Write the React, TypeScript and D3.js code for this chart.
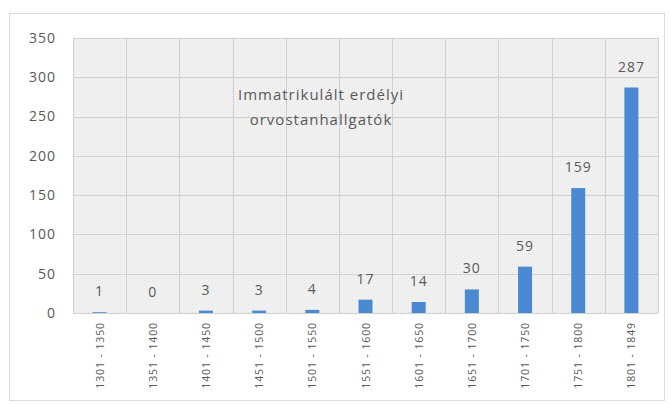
import * as d3 from 'd3';

const categories = [
  '1301 - 1350', '1351 - 1400', '1401 - 1450', '1451 - 1500', '1501 - 1550',
  '1551 - 1600', '1601 - 1650', '1651 - 1700', '1701 - 1750', '1751 - 1800', '1801 - 1849',
];
const values = [1, 0, 3, 3, 4, 17, 14, 30, 59, 159, 287];
const yTicks = [0, 50, 100, 150, 200, 250, 300, 350];
const titleLines = ['Immatrikulált erdélyi', 'orvostanhallgatók'];

const W = 671;
const H = 404;
const plot = { left: 73, top: 38, right: 658, bottom: 313 };
const font = '"Open Sans", "DejaVu Sans", sans-serif';
const textColor = '#595959';

const App = () => {
  const x = d3.scaleBand<string>()
    .domain(categories)
    .range([plot.left, plot.right])
    .paddingInner(0)
    .paddingOuter(0);

  const y = d3.scaleLinear()
    .domain([0, 350])
    .range([plot.bottom, plot.top]);

  const barW = 14;

  return (
    <svg width={W} height={H} style={{ position: 'absolute', left: 0, top: 0, background: '#fff' }}>
      <defs>
        <pattern id="dots" width={4} height={4} patternUnits="userSpaceOnUse">
          <rect width={4} height={4} fill="#f1f1f1" />
          <rect width={1} height={1} fill="#e2e2e2" />
          <rect x={2} y={2} width={1} height={1} fill="#e2e2e2" />
        </pattern>
      </defs>

      {/* chart frame */}
      <rect x={9.5} y={13.5} width={655} height={387} fill="#fff" stroke="#dcdcdc" />

      {/* plot background */}
      <rect
        x={plot.left}
        y={plot.top}
        width={plot.right - plot.left}
        height={plot.bottom - plot.top}
        fill="url(#dots)"
      />

      {/* horizontal grid */}
      {yTicks.map((t) => (
        <line
          key={'h' + t}
          x1={plot.left}
          x2={plot.right}
          y1={Math.round(y(t)) + 0.5}
          y2={Math.round(y(t)) + 0.5}
          stroke="#d0d0d0"
        />
      ))}

      {/* vertical grid at band edges */}
      {categories.map((c) => (
        <line
          key={'v' + c}
          x1={Math.round(x(c)!) + 0.5}
          x2={Math.round(x(c)!) + 0.5}
          y1={plot.top}
          y2={plot.bottom}
          stroke="#d0d0d0"
        />
      ))}
      <line x1={plot.right + 0.5} x2={plot.right + 0.5} y1={plot.top} y2={plot.bottom} stroke="#d0d0d0" />

      {/* y tick labels */}
      {yTicks.map((t) => (
        <text
          key={'yt' + t}
          x={56}
          y={y(t)}
          dy="0.35em"
          textAnchor="end"
          fontSize={14}
          letterSpacing={1}
          fontFamily={font}
          fill={textColor}
        >
          {t}
        </text>
      ))}

      {/* bars + value labels */}
      {categories.map((c, i) => {
        const cx = x(c)! + x.bandwidth() / 2;
        const top = y(values[i]);
        return (
          <g key={'b' + c}>
            <rect
              x={cx - barW / 2}
              y={top}
              width={barW}
              height={plot.bottom - top}
              fill="#4a8ad2"
            />
            <text
              x={cx}
              y={top - 16}
              textAnchor="middle"
              fontSize={14}
              letterSpacing={1}
              fontFamily={font}
              fill={textColor}
            >
              {values[i]}
            </text>
          </g>
        );
      })}

      {/* x axis line */}
      <line x1={plot.left} x2={plot.right} y1={plot.bottom + 0.5} y2={plot.bottom + 0.5} stroke="#d0d0d0" />

      {/* rotated category labels */}
      {categories.map((c) => {
        const cx = x(c)! + x.bandwidth() / 2;
        return (
          <text
            key={'xl' + c}
            transform={`translate(${cx + 4}, ${plot.bottom + 9}) rotate(-90)`}
            textAnchor="end"
            fontSize={10.5}
            letterSpacing={0.9}
            fontFamily={font}
            fill={textColor}
          >
            {c}
          </text>
        );
      })}

      {/* inline chart title */}
      {titleLines.map((line, i) => (
        <text
          key={'t' + i}
          x={321}
          y={95 + i * 25}
          dy="0.35em"
          textAnchor="middle"
          fontSize={15}
          letterSpacing={1}
          fontFamily={font}
          fill={textColor}
        >
          {line}
        </text>
      ))}
    </svg>
  );
};

export default App;
